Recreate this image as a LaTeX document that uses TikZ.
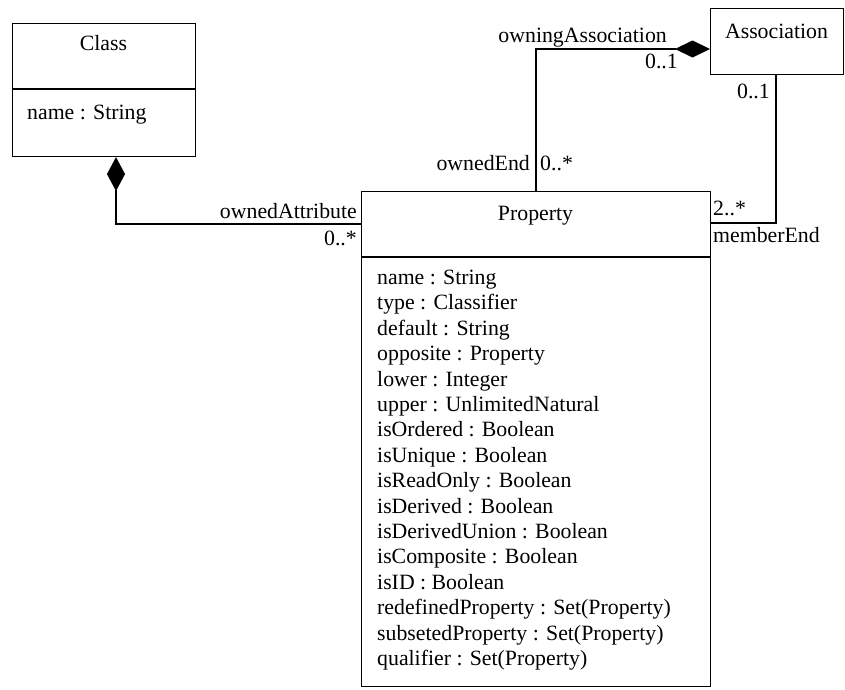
\documentclass[tikz,border=0pt]{standalone}
\usepackage{fontspec}
\setmainfont{Liberation Serif}
\usetikzlibrary{arrows.meta}
\begin{document}
\begin{tikzpicture}[x=1pt,y=-1pt,
  every node/.style={font=\fontsize{21.8}{25.4}\selectfont, inner sep=0pt},
  box/.style={draw, line width=1.1pt, anchor=north west},
  conn/.style={line width=1.1pt},
  comp/.style={{Diamond[length=34pt,width=18pt,fill=black]}-}]
\useasboundingbox (0,0) rectangle (845,689);
% Class
\node[box, minimum width=183pt, minimum height=133pt] (cls) at (12,23) {};
\coordinate (clsdiv) at (12,89);
\draw[conn] (clsdiv) -- (clsdiv -| cls.east);
\node[anchor=base] (clsname) at (103.5,50) {Class};
\node[anchor=base west] (clsattr) at (27,119) {name : String};
% Property
\node[box, minimum width=349pt, minimum height=495pt] (prop) at (361,191) {};
\coordinate (propdiv) at (361,257);
\draw[conn] (propdiv) -- (propdiv -| prop.east);
\node[anchor=base] (propname) at (535.5,220) {Property};
\foreach \t [count=\i from 0] in {name : String, type : Classifier, default : String,
  opposite : Property, lower : Integer, upper : UnlimitedNatural, isOrdered : Boolean,
  isUnique : Boolean, isReadOnly : Boolean, isDerived : Boolean, isDerivedUnion : Boolean,
  isComposite : Boolean, isID : Boolean, redefinedProperty : Set(Property),
  subsetedProperty : Set(Property), qualifier : Set(Property)}
  \node[anchor=base west] (pa\i) at (377,284.5+25.4*\i) {\t};
% Association
\node[box, minimum width=133pt, minimum height=66pt] (assoc) at (710,8) {};
\node[anchor=base] (assocname) at (776.5,38) {Association};
% Class -- Property (ownedAttribute)
\coordinate (b1) at (116,224);
\draw[conn, comp] (cls.south -| b1) -- (b1) -- (b1 -| prop.west);
\node[anchor=base east] (l1) at (357,218) {ownedAttribute};
\node[anchor=base east] (m1) at (357,245) {0..*};
% Association -- Property (owningAssociation / ownedEnd)
\coordinate (b2) at (536,49);
\draw[conn, {Diamond[length=35pt,width=17pt,fill=black]}-] (assoc.west |- b2) -- (b2) -- (b2 |- prop.north);
\node[anchor=base east] (l2) at (667,42) {owningAssociation};
\node[anchor=base east] (m2) at (678,68) {0..1};
\node[anchor=base east] (l3) at (530,170) {ownedEnd};
\node[anchor=base west] (m3) at (540,170) {0..*};
% Association -- Property (memberEnd)
\coordinate (b3) at (776,223);
\draw[conn] (assoc.south -| b3) -- (b3) -- (b3 -| prop.east);
\node[anchor=base east] (m4) at (770,98) {0..1};
\node[anchor=base west] (m5) at (713,215) {2..*};
\node[anchor=base west] (l4) at (713,242) {memberEnd};
\end{tikzpicture}
\end{document}
